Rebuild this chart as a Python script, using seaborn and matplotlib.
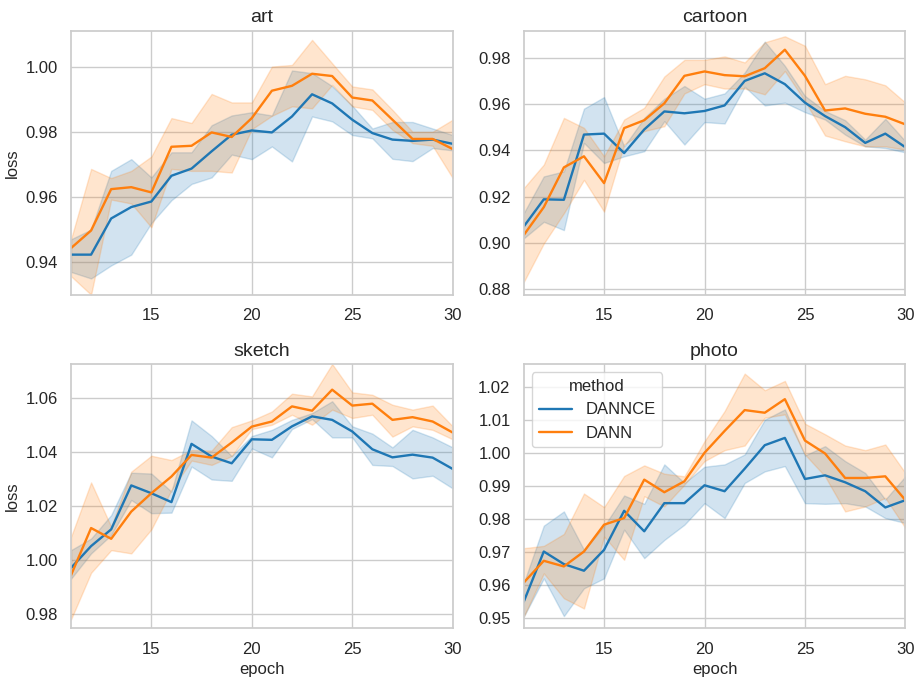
import matplotlib
matplotlib.use("Agg")
import matplotlib.pyplot as plt
from matplotlib.ticker import MultipleLocator
import seaborn as sns
import numpy as np
import pandas as pd

epochs = list(range(11, 31))
methods = ["DANNCE", "DANN"]
domains = ["art", "cartoon", "sketch", "photo"]

# art
art_dannce_mean = [0.9423, 0.9423, 0.9534, 0.9569, 0.9586, 0.9665, 0.9687, 0.9740, 0.9791, 0.9804,
                   0.9798, 0.9847, 0.9915, 0.9887, 0.9837, 0.9796, 0.9776, 0.9772, 0.9776, 0.9763]
art_dannce_lo = [0.9370, 0.9350, 0.9390, 0.9423, 0.9520, 0.9590, 0.9640, 0.9660, 0.9730, 0.9716,
                 0.9755, 0.9709, 0.9847, 0.9832, 0.9790, 0.9780, 0.9717, 0.9710, 0.9750, 0.9743]
art_dannce_hi = [0.9470, 0.9500, 0.9680, 0.9716, 0.9660, 0.9737, 0.9737, 0.9820, 0.9850, 0.9860,
                 0.9850, 0.9988, 0.9980, 0.9940, 0.9880, 0.9810, 0.9830, 0.9830, 0.9810, 0.9790]
art_dann_mean = [0.9443, 0.9497, 0.9624, 0.9630, 0.9614, 0.9754, 0.9757, 0.9798, 0.9784, 0.9842,
                 0.9926, 0.9941, 0.9978, 0.9971, 0.9905, 0.9896, 0.9837, 0.9778, 0.9778, 0.9747]
art_dann_lo = [0.9357, 0.9300, 0.9592, 0.9580, 0.9507, 0.9686, 0.9680, 0.9680, 0.9675, 0.9808,
               0.9849, 0.9878, 0.9872, 0.9944, 0.9878, 0.9867, 0.9806, 0.9765, 0.9757, 0.9658]
art_dann_hi = [0.9470, 0.9686, 0.9658, 0.9680, 0.9724, 0.9842, 0.9827, 0.9916, 0.9890, 0.9890,
               1.0000, 1.0005, 1.0082, 1.0010, 0.9939, 0.9930, 0.9867, 0.9800, 0.9800, 0.9837]

# cartoon
cartoon_dannce_mean = [0.9070, 0.9188, 0.9186, 0.9468, 0.9472, 0.9388, 0.9490, 0.9568, 0.9560, 0.9570,
                       0.9594, 0.9700, 0.9733, 0.9686, 0.9606, 0.9548, 0.9500, 0.9432, 0.9472, 0.9413]
cartoon_dannce_lo = [0.9019, 0.9091, 0.9055, 0.9432, 0.9345, 0.9374, 0.9396, 0.9526, 0.9425, 0.9522,
                     0.9516, 0.9675, 0.9594, 0.9606, 0.9565, 0.9533, 0.9468, 0.9417, 0.9410, 0.9391]
cartoon_dannce_hi = [0.9128, 0.9287, 0.9309, 0.9580, 0.9630, 0.9417, 0.9540, 0.9623, 0.9678, 0.9623,
                     0.9646, 0.9736, 0.9870, 0.9765, 0.9635, 0.9570, 0.9530, 0.9446, 0.9536, 0.9439]
cartoon_dann_mean = [0.9033, 0.9154, 0.9326, 0.9374, 0.9258, 0.9496, 0.9530, 0.9603, 0.9722, 0.9741,
                     0.9725, 0.9720, 0.9755, 0.9835, 0.9722, 0.9572, 0.9581, 0.9558, 0.9545, 0.9512]
cartoon_dann_lo = [0.8830, 0.8997, 0.9128, 0.9272, 0.9135, 0.9425, 0.9483, 0.9504, 0.9646, 0.9686,
                   0.9667, 0.9667, 0.9642, 0.9743, 0.9613, 0.9464, 0.9439, 0.9417, 0.9417, 0.9403]
cartoon_dann_hi = [0.9236, 0.9338, 0.9540, 0.9497, 0.9374, 0.9533, 0.9584, 0.9719, 0.9791, 0.9791,
                   0.9806, 0.9780, 0.9867, 0.9893, 0.9852, 0.9686, 0.9722, 0.9707, 0.9681, 0.9606]

# sketch
sketch_dannce_mean = [0.9970, 1.0051, 1.0113, 1.0276, 1.0247, 1.0214, 1.0430, 1.0383, 1.0358, 1.0447,
                      1.0445, 1.0495, 1.0532, 1.0519, 1.0476, 1.0410, 1.0380, 1.0390, 1.0379, 1.0337]
sketch_dannce_lo = [0.9930, 1.0024, 1.0092, 1.0222, 1.0173, 1.0175, 1.0346, 1.0298, 1.0293, 1.0413,
                    1.0380, 1.0485, 1.0522, 1.0454, 1.0454, 1.0352, 1.0348, 1.0302, 1.0312, 1.0265]
sketch_dannce_hi = [1.0036, 1.0079, 1.0166, 1.0323, 1.0320, 1.0253, 1.0517, 1.0459, 1.0385, 1.0459,
                    1.0482, 1.0519, 1.0544, 1.0588, 1.0495, 1.0468, 1.0417, 1.0482, 1.0454, 1.0417]
sketch_dann_mean = [0.9943, 1.0118, 1.0078, 1.0179, 1.0247, 1.0309, 1.0389, 1.0379, 1.0435, 1.0494,
                    1.0513, 1.0569, 1.0553, 1.0631, 1.0572, 1.0579, 1.0519, 1.0529, 1.0513, 1.0472]
sketch_dann_lo = [0.9779, 0.9952, 1.0036, 1.0024, 1.0113, 1.0259, 1.0368, 1.0352, 1.0385, 1.0485,
                  1.0501, 1.0538, 1.0501, 1.0557, 1.0526, 1.0538, 1.0457, 1.0495, 1.0482, 1.0447]
sketch_dann_hi = [1.0085, 1.0287, 1.0123, 1.0327, 1.0386, 1.0370, 1.0407, 1.0405, 1.0492, 1.0517,
                  1.0550, 1.0616, 1.0606, 1.0726, 1.0621, 1.0612, 1.0575, 1.0557, 1.0572, 1.0495]

# photo
photo_dannce_mean = [0.9550, 0.9702, 0.9664, 0.9644, 0.9707, 0.9825, 0.9763, 0.9848, 0.9848, 0.9902,
                     0.9884, 0.9952, 1.0023, 1.0045, 0.9921, 0.9932, 0.9911, 0.9884, 0.9835, 0.9857]
photo_dannce_lo = [0.9505, 0.9621, 0.9507, 0.9591, 0.9621, 0.9768, 0.9682, 0.9737, 0.9783, 0.9848,
                   0.9803, 0.9909, 0.9944, 0.9960, 0.9848, 0.9846, 0.9848, 0.9838, 0.9803, 0.9788]
photo_dannce_hi = [0.9606, 0.9780, 0.9823, 0.9707, 0.9778, 0.9871, 0.9846, 0.9965, 0.9909, 0.9958,
                   0.9965, 0.9995, 1.0100, 1.0131, 0.9992, 1.0020, 0.9975, 0.9939, 0.9859, 0.9929]
photo_dann_mean = [0.9608, 0.9674, 0.9657, 0.9702, 0.9783, 0.9803, 0.9919, 0.9881, 0.9914, 1.0000,
                   1.0066, 1.0129, 1.0121, 1.0162, 1.0037, 0.9998, 0.9924, 0.9924, 0.9929, 0.9857]
photo_dann_lo = [0.9505, 0.9636, 0.9561, 0.9530, 0.9747, 0.9677, 0.9869, 0.9838, 0.9904, 0.9975,
                 1.0008, 1.0022, 1.0106, 1.0116, 0.9995, 0.9929, 0.9823, 0.9838, 0.9864, 0.9773]
photo_dann_hi = [0.9712, 0.9719, 0.9755, 0.9877, 0.9836, 0.9930, 0.9962, 0.9937, 0.9929, 1.0035,
                 1.0126, 1.0239, 1.0189, 1.0217, 1.0088, 1.0056, 1.0022, 1.0008, 1.0025, 0.9939]

series = {
    "art": {"DANNCE": (art_dannce_lo, art_dannce_mean, art_dannce_hi),
            "DANN": (art_dann_lo, art_dann_mean, art_dann_hi)},
    "cartoon": {"DANNCE": (cartoon_dannce_lo, cartoon_dannce_mean, cartoon_dannce_hi),
                "DANN": (cartoon_dann_lo, cartoon_dann_mean, cartoon_dann_hi)},
    "sketch": {"DANNCE": (sketch_dannce_lo, sketch_dannce_mean, sketch_dannce_hi),
               "DANN": (sketch_dann_lo, sketch_dann_mean, sketch_dann_hi)},
    "photo": {"DANNCE": (photo_dannce_lo, photo_dannce_mean, photo_dannce_hi),
              "DANN": (photo_dann_lo, photo_dann_mean, photo_dann_hi)},
}

# long table: low / mid / high per epoch; median gives the line, min-max the band
rows = []
for dom in domains:
    for m in methods:
        for arr in series[dom][m]:
            for e, v in zip(epochs, arr):
                rows.append({"domain": dom, "method": m, "epoch": e, "loss": v})
df = pd.DataFrame(rows)

sns.set_theme(style="whitegrid", rc={
    "xtick.labelsize": 12, "ytick.labelsize": 12,
    "axes.labelsize": 12, "axes.titlesize": 14,
    "legend.fontsize": 12, "legend.title_fontsize": 12,
    "lines.linewidth": 1.7,
})
plt.rcParams["font.family"] = ["Liberation Sans", "DejaVu Sans"]

fig, axes = plt.subplots(2, 2, figsize=(9.22, 6.83), dpi=100)
palette = {"DANNCE": "#1f77b4", "DANN": "#ff7f0e"}

for ax, dom in zip(axes.flat, domains):
    sns.lineplot(data=df[df["domain"] == dom], x="epoch", y="loss", hue="method",
                 hue_order=methods, palette=palette, estimator="median",
                 errorbar=("pi", 100), ax=ax)
    ax.set_title(dom)
    ax.set_xlim(11, 30)
    ax.set_xticks([15, 20, 25, 30])
    if dom != "photo":
        ax.get_legend().remove()
    else:
        sns.move_legend(ax, "upper left")

for ax in axes[0]:
    ax.set_xlabel("")
for ax in axes[:, 1]:
    ax.set_ylabel("")

axes[0, 0].set_ylim(0.9299, 1.011)
axes[0, 1].set_ylim(0.8774, 0.9917)
axes[1, 0].set_ylim(0.9746, 1.0726)
axes[1, 1].set_ylim(0.947, 1.0268)
axes[1, 1].yaxis.set_major_locator(MultipleLocator(0.01))

fig.subplots_adjust(left=0.077, right=0.982, top=0.955, bottom=0.08,
                    wspace=0.186, hspace=0.261)
plt.savefig("out.png", dpi=100)
